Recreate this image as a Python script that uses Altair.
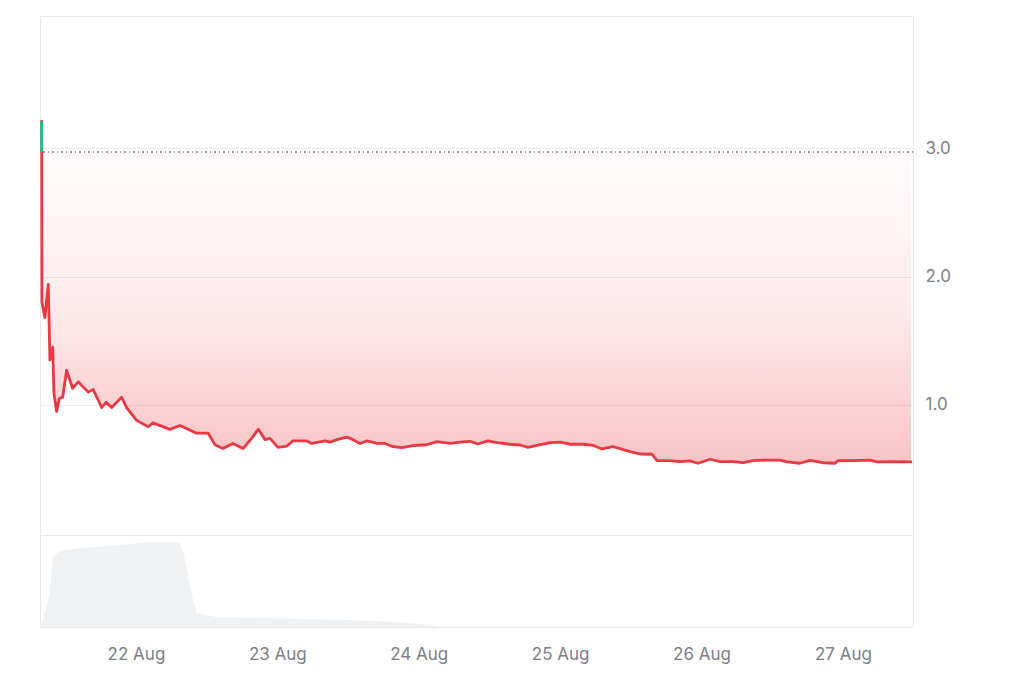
import altair as alt
import pandas as pd

# ---------------- data ----------------
price_times = [
    "2024-08-21T08:00", "2024-08-21T08:03", "2024-08-21T08:33", "2024-08-21T09:07",
    "2024-08-21T09:24", "2024-08-21T09:52", "2024-08-21T10:05", "2024-08-21T10:32",
    "2024-08-21T10:59", "2024-08-21T11:34", "2024-08-21T12:14", "2024-08-21T13:15",
    "2024-08-21T14:13", "2024-08-21T15:54", "2024-08-21T16:45", "2024-08-21T18:11",
    "2024-08-21T18:55", "2024-08-21T19:53", "2024-08-21T21:34", "2024-08-21T22:25",
    "2024-08-22T00:07", "2024-08-22T02:05", "2024-08-22T02:53", "2024-08-22T05:46",
    "2024-08-22T07:28", "2024-08-22T10:18", "2024-08-22T12:16", "2024-08-22T13:25",
    "2024-08-22T14:46", "2024-08-22T16:28", "2024-08-22T18:10", "2024-08-22T19:38",
    "2024-08-22T20:46", "2024-08-22T21:54", "2024-08-22T22:45", "2024-08-23T00:06",
    "2024-08-23T01:38", "2024-08-23T02:39", "2024-08-23T05:01", "2024-08-23T05:52",
    "2024-08-23T08:05", "2024-08-23T08:56", "2024-08-23T10:07", "2024-08-23T11:49",
    "2024-08-23T12:50", "2024-08-23T14:01", "2024-08-23T15:13", "2024-08-23T16:55",
    "2024-08-23T18:16", "2024-08-23T19:37", "2024-08-23T21:09", "2024-08-23T23:01",
    "2024-08-24T01:23", "2024-08-24T03:05", "2024-08-24T05:18", "2024-08-24T07:00",
    "2024-08-24T08:41", "2024-08-24T10:03", "2024-08-24T11:45", "2024-08-24T13:16",
    "2024-08-24T15:29", "2024-08-24T17:11", "2024-08-24T18:32", "2024-08-24T20:14",
    "2024-08-24T22:16", "2024-08-24T23:58", "2024-08-25T01:40", "2024-08-25T03:52",
    "2024-08-25T05:34", "2024-08-25T07:05", "2024-08-25T08:58", "2024-08-25T10:09",
    "2024-08-25T11:51", "2024-08-25T13:33", "2024-08-25T15:35", "2024-08-25T16:26",
    "2024-08-25T18:38", "2024-08-25T20:20", "2024-08-25T22:02", "2024-08-25T23:23",
    "2024-08-26T01:26", "2024-08-26T03:07", "2024-08-26T05:20", "2024-08-26T07:02",
    "2024-08-26T08:43", "2024-08-26T11:06", "2024-08-26T13:18", "2024-08-26T14:30",
    "2024-08-26T16:42", "2024-08-26T18:24", "2024-08-26T20:36", "2024-08-26T22:39",
    "2024-08-26T23:10", "2024-08-27T01:42", "2024-08-27T04:35", "2024-08-27T05:46",
    "2024-08-27T08:29", "2024-08-27T11:32",
]
price_values = [
    3.21, 1.80, 1.68, 1.94,
    1.35, 1.45, 1.09, 0.95,
    1.05, 1.06, 1.27, 1.13,
    1.18, 1.10, 1.12, 0.98,
    1.02, 0.98, 1.06, 0.98,
    0.88, 0.83, 0.86, 0.81,
    0.84, 0.78, 0.78, 0.69,
    0.66, 0.70, 0.66, 0.74,
    0.81, 0.73, 0.74, 0.67,
    0.68, 0.72, 0.72, 0.70,
    0.72, 0.71, 0.73, 0.75,
    0.73, 0.70, 0.72, 0.70,
    0.70, 0.675, 0.667, 0.683,
    0.69, 0.714, 0.70, 0.71,
    0.717, 0.696, 0.72, 0.706,
    0.694, 0.688, 0.67, 0.688,
    0.706, 0.71, 0.694, 0.694,
    0.686, 0.657, 0.675, 0.66,
    0.636, 0.618, 0.616, 0.566,
    0.566, 0.558, 0.564, 0.546,
    0.577, 0.558, 0.558, 0.55,
    0.566, 0.571, 0.571, 0.556,
    0.546, 0.569, 0.55, 0.546,
    0.566, 0.566, 0.571, 0.556,
    0.558, 0.556,
]

volume_times = [
    "2024-08-21T08:00", "2024-08-21T08:43", "2024-08-21T09:24", "2024-08-21T09:55",
    "2024-08-21T11:06", "2024-08-21T14:30", "2024-08-21T19:35", "2024-08-22T02:13",
    "2024-08-22T07:18", "2024-08-22T07:59", "2024-08-22T08:50", "2024-08-22T09:41",
    "2024-08-22T10:21", "2024-08-22T13:35", "2024-08-22T21:33", "2024-08-23T11:49",
    "2024-08-23T20:18", "2024-08-24T01:54", "2024-08-24T03:36", "2024-08-27T11:32",
]
volume_values = [
    3.3, 18.5, 38, 77,
    82.6, 86, 88, 92.4,
    92.4, 83.7, 56.5, 29,
    15.2, 10.9, 9.8, 7.6,
    5.4, 2.2, 0.3, 0.3,
]

start_price = 2.97
y_tick_values = [1.0, 2.0, 3.0]
x_tick_days = [22, 23, 24, 25, 26, 27]

RED = "#ea3943"
GREEN = "#16c784"
LABEL = "#7c7f88"
FONT = "Inter"

# ---------------- frames ----------------
price = pd.DataFrame({"t": pd.to_datetime(price_times), "p": price_values})

# part of the first drop that lies above the start price (drawn green)
t0, t1 = price["t"].iloc[0], price["t"].iloc[1]
p0, p1 = price["p"].iloc[0], price["p"].iloc[1]
frac = (p0 - start_price) / (p0 - p1)
t_cross = t0 + (t1 - t0) * frac
green = pd.DataFrame({"t": [t0, t_cross], "p": [p0, start_price]})

fill_df = pd.concat([pd.DataFrame({"t": [t_cross], "p": [start_price]}), price.iloc[1:]])

def fmt(df):
    df = df.copy()
    df["t"] = df["t"].dt.strftime("%Y-%m-%dT%H:%M:%S")
    return df

price_s = fmt(price)
green_s = fmt(green)
fill_s = fmt(fill_df)
vol = pd.DataFrame({"t": volume_times, "v": volume_values})

x_domain = [
    alt.DateTime(year=2024, month=8, date=21, hours=7, minutes=43),
    alt.DateTime(year=2024, month=8, date=27, hours=11, minutes=53),
]
x_scale = alt.Scale(domain=x_domain, nice=False)
x_ticks = [alt.DateTime(year=2024, month=8, date=d) for d in x_tick_days]

y_scale = alt.Scale(domain=[-0.013, 4.03], nice=False, zero=False)

W = 873

gradient = alt.Gradient(
    gradient="linear",
    stops=[
        alt.GradientStop(color="rgba(234,57,67,0.02)", offset=0),
        alt.GradientStop(color="rgba(234,57,67,0.10)", offset=0.5),
        alt.GradientStop(color="rgba(234,57,67,0.30)", offset=1),
    ],
    x1=0, x2=0, y1=0, y2=1,
)

y_axis = alt.Axis(
    orient="right", values=y_tick_values, format=".1f", title=None,
    grid=True, gridColor="#ececec", gridWidth=1, domain=False, ticks=False,
    labelFont=FONT, labelFontSize=17, labelColor=LABEL, labelPadding=12,
)

area = alt.Chart(fill_s).mark_area(color=gradient, line=False).encode(
    x=alt.X("t:T", scale=x_scale, axis=None),
    y=alt.Y("p:Q", scale=y_scale, axis=y_axis),
    y2=alt.datum(start_price),
)

rule = alt.Chart(price_s).mark_rule(
    color="#9a9a9a", strokeDash=[1, 3.5], strokeWidth=1.3
).encode(y=alt.datum(start_price))

red_line = alt.Chart(price_s).mark_line(
    color=RED, strokeWidth=2.8, strokeJoin="round", strokeCap="round"
).encode(
    x=alt.X("t:T", scale=x_scale, axis=None),
    y=alt.Y("p:Q", scale=y_scale),
)

green_line = alt.Chart(green_s).mark_line(
    color=GREEN, strokeWidth=2.8, strokeCap="butt"
).encode(
    x=alt.X("t:T", scale=x_scale, axis=None),
    y=alt.Y("p:Q", scale=y_scale),
)

top = alt.layer(area, rule, red_line, green_line).properties(width=W, height=519)

bottom = alt.Chart(vol).mark_area(color="#eff2f5", interpolate="linear").encode(
    x=alt.X(
        "t:T", scale=x_scale,
        axis=alt.Axis(
            values=x_ticks, format="%-d %b", title=None, grid=False,
            domain=False, ticks=False, labelFont=FONT, labelFontSize=17,
            labelColor=LABEL, labelPadding=19,
        ),
    ),
    y=alt.Y("v:Q", scale=alt.Scale(domain=[0, 100], nice=False), axis=None),
).properties(width=W, height=92)

chart = alt.vconcat(top, bottom, spacing=0, bounds="flush").properties(
    padding={"left": 27, "top": 7, "right": 5, "bottom": 5},
    background="white",
).configure_view(stroke="#e8e8e8", strokeWidth=1)

chart.save("out.html", embed_options={"renderer": "svg", "actions": False})
